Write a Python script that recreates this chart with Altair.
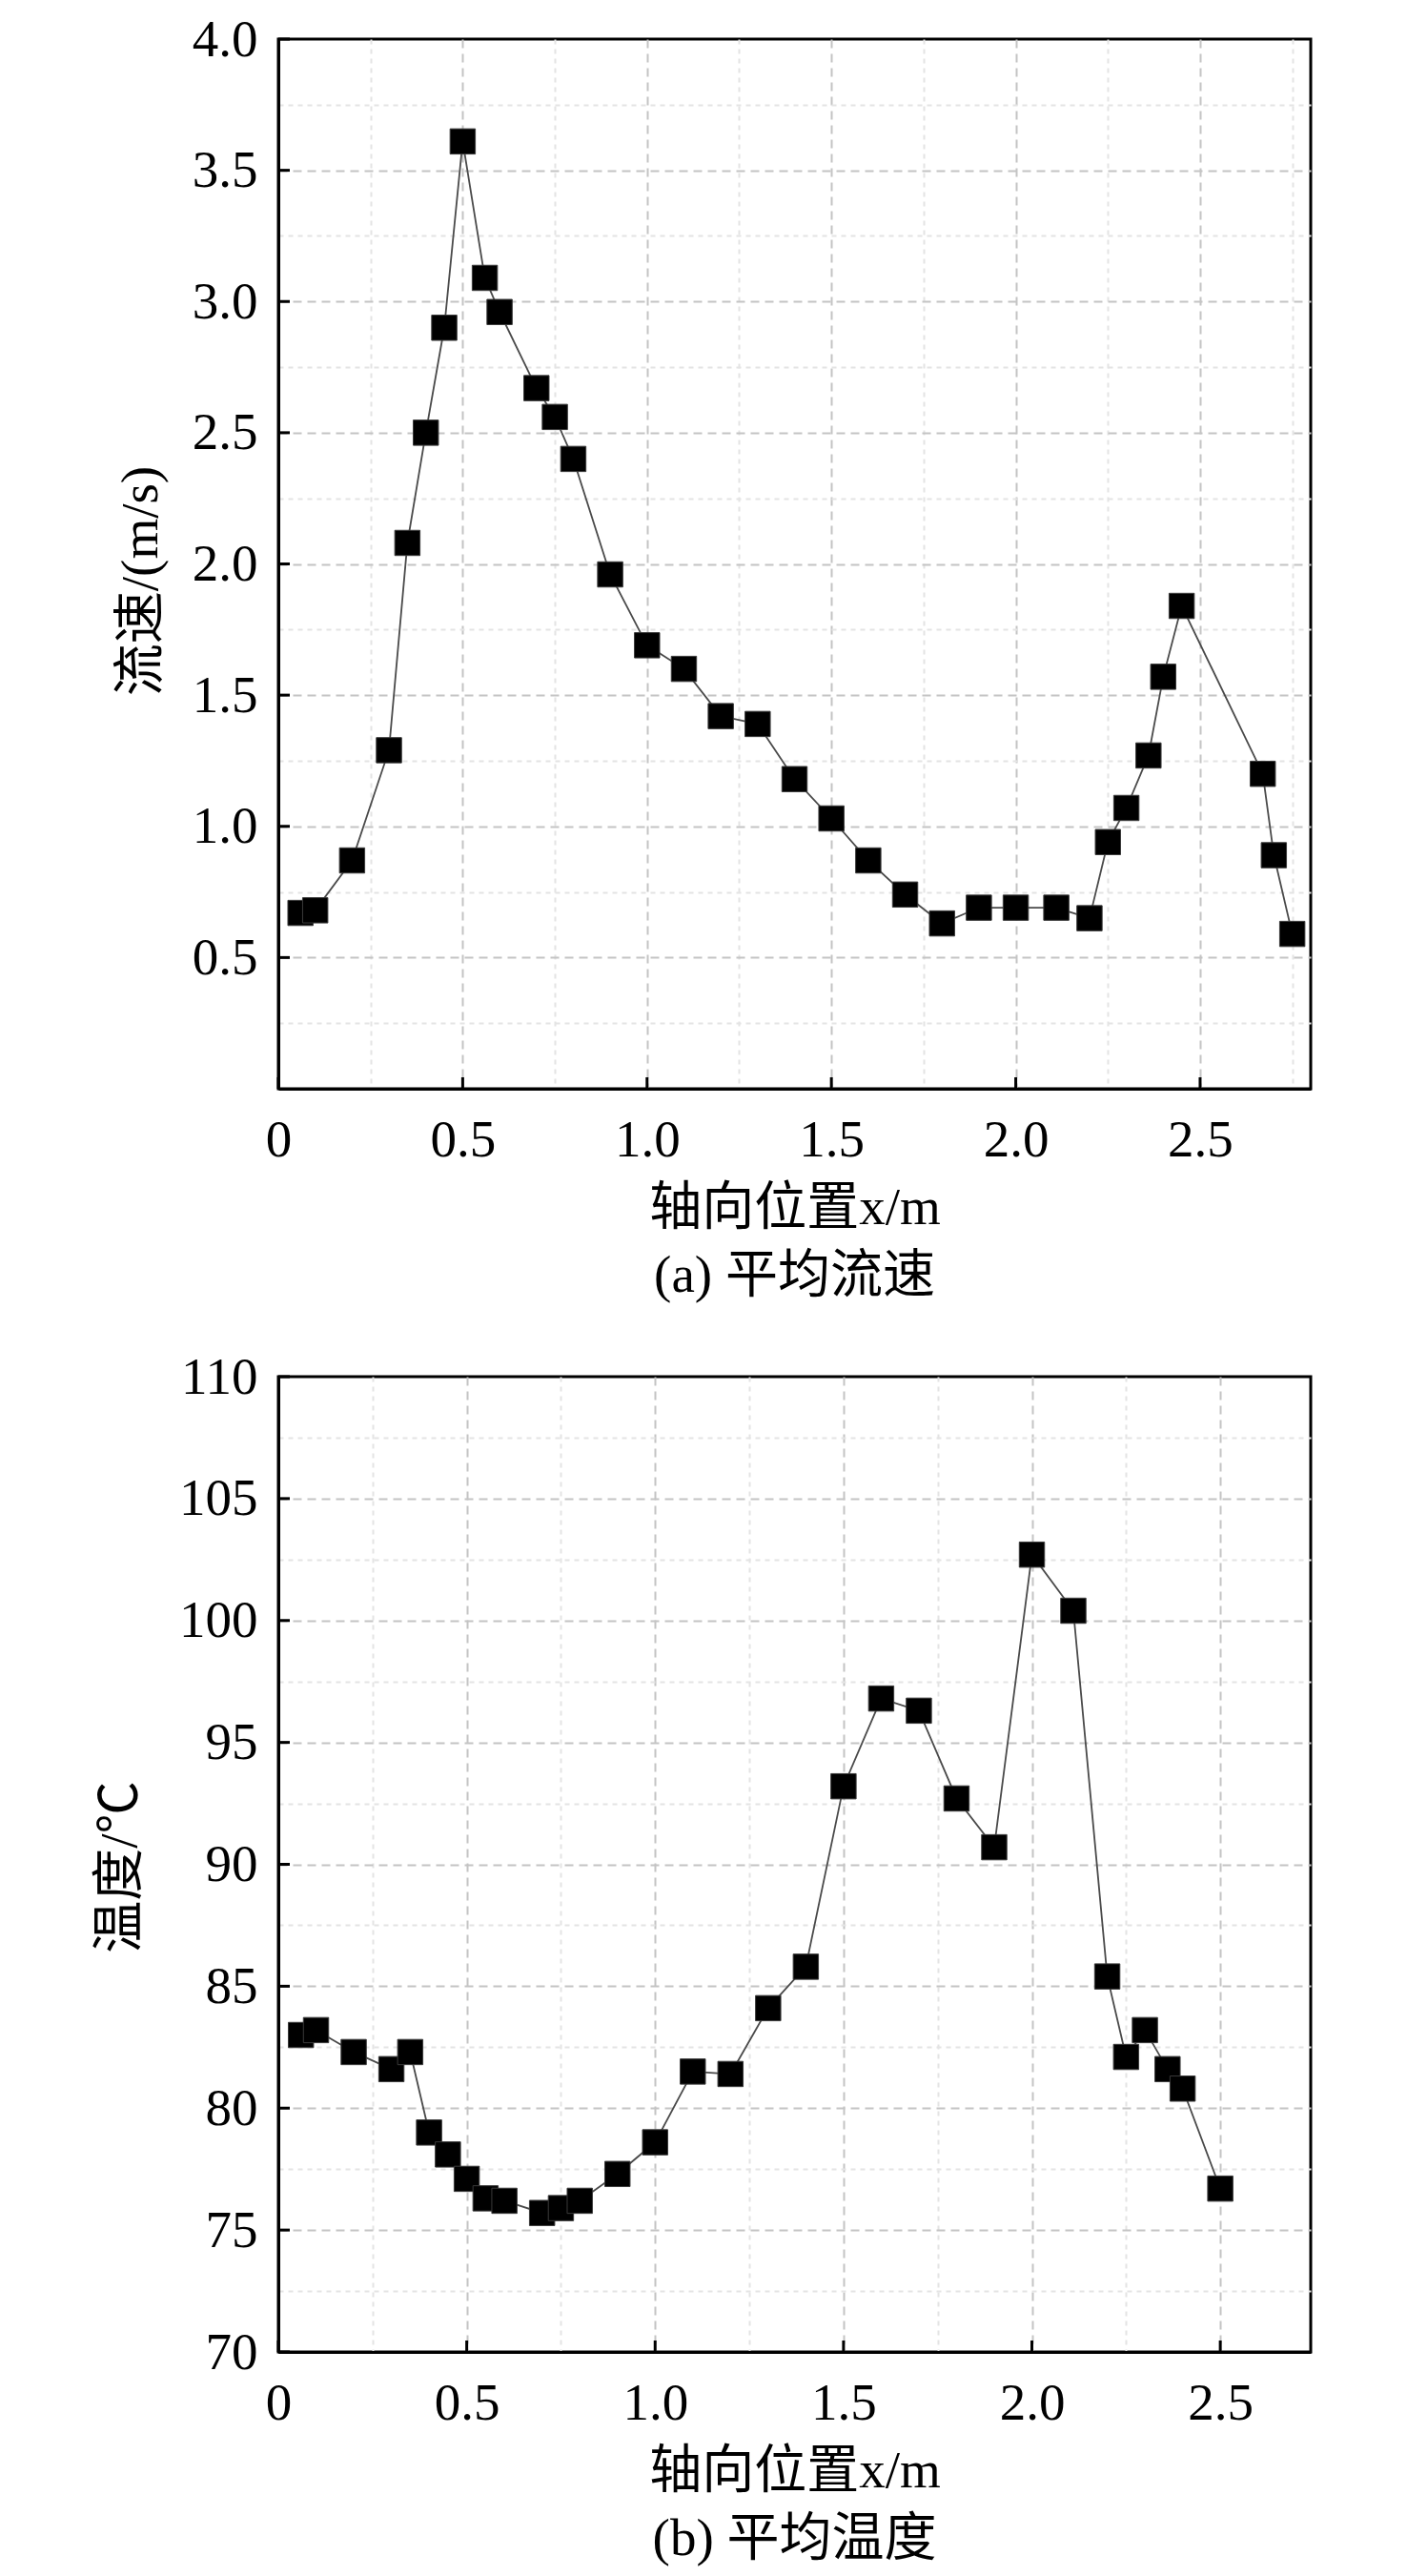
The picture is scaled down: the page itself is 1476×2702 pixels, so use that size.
import altair as alt
import pandas as pd

# ---- data ----
# (a) mean flow velocity
VX = [0.06, 0.1, 0.2, 0.3, 0.35, 0.4, 0.45, 0.5, 0.56, 0.6, 0.7, 0.75, 0.8, 0.9,
      1.0, 1.1, 1.2, 1.3, 1.4, 1.5, 1.6, 1.7, 1.8, 1.9, 2.0, 2.11, 2.2, 2.25,
      2.3, 2.36, 2.4, 2.45, 2.67, 2.7, 2.75]
VY = [0.67, 0.68, 0.87, 1.29, 2.08, 2.5, 2.9, 3.61, 3.09, 2.96, 2.67, 2.56, 2.4, 1.96,
      1.69, 1.6, 1.42, 1.39, 1.18, 1.03, 0.87, 0.74, 0.63, 0.69, 0.69, 0.69, 0.65, 0.94,
      1.07, 1.27, 1.57, 1.84, 1.2, 0.89, 0.59]
# (b) mean temperature
TX = [0.06, 0.1, 0.2, 0.3, 0.35, 0.4, 0.45, 0.5, 0.55, 0.6, 0.7, 0.75, 0.8, 0.9,
      1.0, 1.1, 1.2, 1.3, 1.4, 1.5, 1.6, 1.7, 1.8, 1.9, 2.0, 2.11, 2.2, 2.25,
      2.3, 2.36, 2.4, 2.5]
TY = [83.0, 83.2, 82.3, 81.6, 82.3, 79.0, 78.1, 77.1, 76.3, 76.2, 75.7, 75.9, 76.2, 77.3,
      78.6, 81.5, 81.4, 84.1, 85.8, 93.2, 96.8, 96.3, 92.7, 90.7, 102.7, 100.4, 85.4, 82.1,
      83.2, 81.6, 80.8, 76.7]

# tick values
X_MAJOR = [0, 0.5, 1.0, 1.5, 2.0, 2.5]
X_MINOR = [0.25, 0.75, 1.25, 1.75, 2.25, 2.75]
V_MAJOR = [0.5, 1.0, 1.5, 2.0, 2.5, 3.0, 3.5, 4.0]
V_MINOR = [0.25, 0.75, 1.25, 1.75, 2.25, 2.75, 3.25, 3.75]
T_MAJOR = [70, 75, 80, 85, 90, 95, 100, 105, 110]
T_MINOR = [72.5, 77.5, 82.5, 87.5, 92.5, 97.5, 102.5, 107.5]

X_TITLE = "轴向位置x/m"
V_TITLE = "流速/(m/s)"
T_TITLE = "温度/℃"
CAP_A = "(a) 平均流速"
CAP_B = "(b) 平均温度"

FONT = "Liberation Serif, Noto Sans CJK SC"
MAJOR_GRID = "#c4c4c4"
MINOR_GRID = "#e4e4e4"


def grid_props(step, lo, hi):
    test = f"abs(datum.value / {step} - round(datum.value / {step})) < 1e-6"
    edge = f"datum.value <= {lo} || datum.value >= {hi}"
    return dict(
        grid=True,
        gridColor={"condition": {"test": test, "value": MAJOR_GRID}, "value": MINOR_GRID},
        gridDash={"condition": {"test": test, "value": [9, 6]}, "value": [5, 5]},
        gridOpacity={"condition": {"test": edge, "value": 0}, "value": 1},
        gridWidth=2,
    ), test


def panel(xs, ys, xdom, ydom, ymajor, yminor, ystep, yfmt, W, H,
          ytitle, ytitle_x, ytitle_y, caption, ext):
    gx, tx = grid_props(0.5, xdom[0], xdom[1])
    gy, ty = grid_props(ystep, ydom[0], ydom[1])
    x_label = f"({tx}) ? (datum.value == 0 ? '0' : format(datum.value, '.1f')) : ''"
    y_label = f"({ty}) && datum.value != 0 ? format(datum.value, '{yfmt}') : ''"

    xscale = alt.Scale(domain=xdom, nice=False, zero=False)
    yscale = alt.Scale(domain=ydom, nice=False, zero=False)

    x_axis = alt.Axis(
        values=sorted(X_MAJOR + X_MINOR), labelExpr=x_label, ticks=False,
        domainColor="black", domainWidth=3,
        labelFont=FONT, labelFontSize=55, labelColor="black", labelPadding=27,
        labelFlush=False, labelOverlap=False,
        title=X_TITLE, titleFont=FONT, titleFontSize=55, titleFontWeight="normal",
        titleColor="black", titleX=W / 2, titleY=124, titleBaseline="middle",
        titleAlign="center", **gx)
    y_axis = alt.Axis(
        values=sorted(ymajor + yminor), labelExpr=y_label, ticks=False,
        domainColor="black", domainWidth=3,
        labelFont=FONT, labelFontSize=55, labelColor="black", labelPadding=22,
        labelOverlap=False, labelFlush=False,
        minExtent=ext, maxExtent=ext,
        title=ytitle, titleFont=FONT, titleFontSize=55, titleFontWeight="normal",
        titleColor="black", titleX=ytitle_x, titleY=ytitle_y, titleAngle=-90,
        titleBaseline="middle", titleAlign="center", **gy)

    df = pd.DataFrame({"x": xs, "y": ys})
    base = alt.Chart(df).encode(
        x=alt.X("x:Q", scale=xscale, axis=x_axis),
        y=alt.Y("y:Q", scale=yscale, axis=y_axis),
    )
    line = base.mark_line(color="#4a4a4a", strokeWidth=1.8)
    pts = base.mark_square(size=700, fill="black", stroke="#3a3a3a",
                           strokeWidth=1, opacity=1)

    xt = alt.Chart(pd.DataFrame({"x": X_MAJOR})).mark_rule(
        color="black", strokeWidth=3).encode(
        x=alt.X("x:Q", scale=xscale, axis=x_axis),
        y=alt.value(H), y2=alt.value(H - 12))
    yt = alt.Chart(pd.DataFrame({"y": ymajor})).mark_rule(
        color="black", strokeWidth=3).encode(
        y=alt.Y("y:Q", scale=yscale, axis=y_axis),
        x=alt.value(0), x2=alt.value(12))

    return alt.layer(line, pts, xt, yt).properties(
        width=W, height=H,
        title=alt.TitleParams(caption, orient="bottom", font=FONT, fontSize=55,
                              fontWeight="normal", color="black", offset=18,
                              frame="group", anchor="middle"),
    )


top = panel(VX, VY, [0, 2.8], [0, 4.0], V_MAJOR, V_MINOR, 0.5, ".1f",
            1083, 1101, V_TITLE, -145, 568, CAP_A, 282)
bottom = panel(TX, TY, [0, 2.74], [70, 110], T_MAJOR, T_MINOR, 5, "d",
               1083, 1023, T_TITLE, -167, 514, CAP_B, 282)

chart = alt.vconcat(top, bottom, spacing=47).properties(
    padding={"left": 0, "top": 4, "right": 0, "bottom": 0},
    background="white",
).configure_view(stroke="black", strokeWidth=3)

chart.save("out.html", embed_options={"renderer": "svg", "actions": False})
